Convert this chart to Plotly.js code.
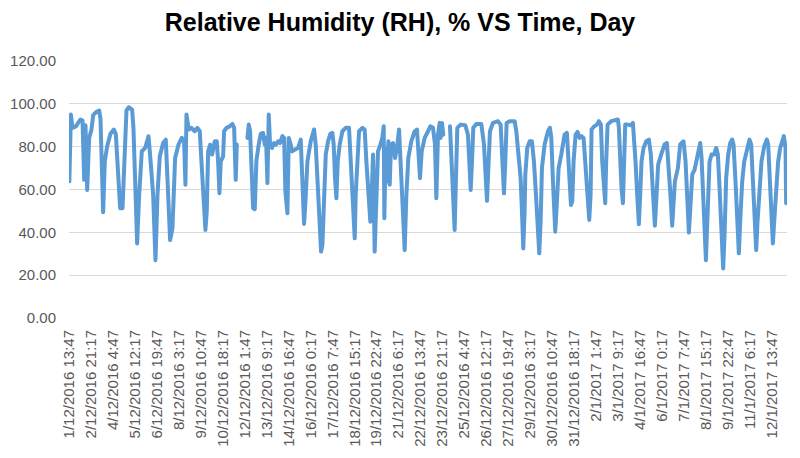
<!DOCTYPE html>
<html>
<head>
<meta charset="utf-8">
<script src="https://cdn.plot.ly/plotly-3.0.1.min.js"></script>
<style>
    body { margin: 0; background: #fff; }
    #graphic_rh { width: 800px; height: 458px; }
    #graphic_rh .js-line { stroke-linejoin: round; stroke-linecap: round; }
</style>
</head>
<body>
<div id="graphic_rh"></div>
<script>
// hours elapsed since 1/12/2016 13:47 (null marks a gap in the logger record)
const rh_hours = [
    0, 2.2, 4.5, 9.3, 16, 18.9, 21.3, 23.2, 25.6, 28.4, 31.8, 34.2, 39, 42.8, 44.7, 46.6, 48.5, 50.9, 54.3, 59,
    63.8, 66.7, 70, 72.9, 76.3, 79.6, 82, 85.3, 90.1, 92, 94.4, 97.3, 100.2, 104, 108.8, 113.6, 115.5, 120.3, 123.6, 126.5,
    129.8, 134.6, 138.4, 141.8, 144.6, 148, 151.8, 156.6, 161.4, 164.7, 166.6, 168.1, 171.4, 175.2, 180, 183.8, 187.2, 189.6, 192.5, 195.3,
    197.2, 199.2, 202, 204.9, 208.7, 211.6, 213.5, 215.4, 217.3, 220.7, 222.1, 225.5, 230.2, 234, 236.5, 237.4, 238.8, 240.3, 241, 255.6,
    257.5, 259.4, 261.3, 263.7, 266.1, 268.5, 271.8, 274.7, 278, 280.4, 282.3, 284.3, 286.2, 288.1, 291, 293.8, 296.7, 299.6, 302.4, 305.8,
    308.2, 310.1, 313, 314.9, 317.7, 319.7, 323.5, 328.3, 332.1, 334, 336.9, 338.8, 341.7, 346.4, 351.2, 353.6, 356.5, 359.3, 361.3, 363.2,
    365.1, 368, 371.3, 374.6, 377.5, 379.4, 381.3, 383.3, 385.2, 388, 391.9, 396.6, 401.4, 404.3, 407.2, 409.6, 411, 413.4, 415.8, 420.6,
    423.9, 426.3, 429.2, 432, 433.9, 435.9, 438.2, 440.6, 443, 446.4, 449.2, 451.2, 452.1, 454, 455.9, 457.9, 459.8, 461.7, 464.5, 467.4,
    470.3, 473.2, 475.1, 478, 481.3, 483.7, 486.5, 490.8, 495.6, 499, 500.9, 503.3, 505.7, 510, 514.8, 518.1, 521.9, 524.8, 526.7, 529.1,
    531.5, 532.9, 534.8, 536.7, 540, 546.3, 549.2, 553, 554.9, 556.8, 561.6, 568.3, 572.1, 574, 576, 577.9, 579.8, 584.1, 591.3, 595.1,
    597.5, 599.4, 601.8, 603.7, 608, 615.2, 619, 621.4, 623.8, 625.7, 627.6, 631.9, 639.1, 641.5, 644.8, 647.7, 649.6, 651.5, 653.4, 654.4,
    657.2, 660.6, 663.9, 666.8, 669.7, 672.5, 674.4, 676.4, 678.3, 682.1, 686.9, 689.7, 691.7, 694.1, 697.4, 700.3, 702.2, 706, 710.8, 714.1,
    716, 718, 719.9, 721.8, 723.7, 726.6, 729.4, 732.3, 735.2, 738, 740, 742.8, 746.2, 748.1, 749.5, 753.3, 757.2, 760, 762.9, 764.8,
    767.2, 769.1, 770.5, 772.5, 777.7, 784, 787.3, 788.7, 790.6, 792.5, 794.5, 796.4, 797.8, 801.6, 806.4, 808.8, 810.7, 812.6, 815, 817.4,
    819.3, 821.2, 824.1, 827.9, 831.8, 834.6, 837.5, 840.4, 842.3, 845.1, 849.4, 854.2, 857.6, 859.5, 862.4, 865.2, 867.2, 869.1, 873.4, 876.7,
    881.5, 884.4, 889.2, 892, 894, 897.3, 900.7, 903.5, 905.4, 907.4, 909.3, 911.7, 913.6, 916, 918.8, 921.7, 925.5, 928.4, 930.8, 933.2,
    935.1, 937, 938.4, 940.4, 942.7, 945.6, 948.5, 951.3, 953.3, 956.1, 959, 960.9, 962.8, 965.7, 968.6, 972.4, 976.2, 978.6, 981, 983.9,
    985.8, 987.7, 990.6, 993.4, 997.3, 1001.1, 1003, 1004.9, 1007.3, 1009.7, 1011.6, 1014.5, 1017.3, 1020.2, 1023.1, 1025.5, 1027.9, 1028.8
];
const rh_values = [
    63.8, 95, 88.8, 89.5, 92.7, 92.2, 64.5, 90, 59.8, 84, 88, 94.7, 96.3, 96.9, 93.1, 71.6, 49.4, 73.1, 80.2, 86,
    88, 86, 65.3, 51.3, 51.3, 76.3, 96.9, 98.4, 97.3, 88.8, 57.5, 34.8, 57.5, 77.8, 79.4, 84.9, 77.8, 57.5, 27, 57.5,
    75.5, 81.7, 83.3, 60.6, 36.4, 41.9, 74.7, 80.9, 84.1, 82.5, 62.2, 95, 88, 88.8, 87.2, 88.8, 87.2, 73.1, 59, 41.1,
    49.7, 77.8, 80.9, 76.3, 82.5, 82.5, 73.1, 58.3, 73.1, 75.5, 87.2, 88.8, 89.5, 90.6, 88.8, 79.4, 64.5, 81, null, 84.1,
    90.3, 87.2, 65.3, 51.3, 50.8, 73.5, 81, 86, 86.4, 81, 84.1, 63, 95, 81, 79.4, 81.7, 81, 82.5, 81.7, 84.9,
    84.1, 59, 48.9, 84.1, 81, 77.8, 78.6, 79.4, 83.3, 65.3, 43.9, 54, 73.1, 82.5, 88, 81, 62.2, 52.8, 31, 34.1,
    57.5, 76.3, 82.5, 86, 86.4, 81, 65.3, 55.9, 73.1, 81, 87.2, 88.8, 88.8, 73.1, 57.5, 37.2, 57.5, 73.1, 87.2, 88.8,
    88, 73.1, 57.5, 45, 57.5, 76.3, 31, 60.6, 77.8, 81, 84.1, 89.5, 46.6, 79.4, 63.8, 82.5, 62.2, 81, 81.7, 74.7,
    79.4, 88, 76.3, 57.5, 31.7, 57.5, 74.7, 82.5, 87.2, 88, 73.1, 65.3, 77.8, 84.1, 87.2, 89.5, 88.8, 81, 55.9, 85.6,
    91.1, 84.1, 91.1, 85.6, null, 89.5, 68.5, 41.1, 65.3, 88.8, 90.3, 90, 85.6, 73.1, 59.8, 73.1, 88.8, 90.6, 90.6, 81,
    65.3, 54.7, 73.1, 87.2, 91.1, 91.9, 90.3, 73.1, 58.2, 73.1, 91.1, 91.9, 91.9, 87.2, 73.1, 65.3, 49.7, 32.5, 49.7, 66.9,
    79.4, 82.5, 82.5, 73.1, 57.5, 35.6, 30.2, 45, 70, 81, 87.2, 88.8, 84.1, 63.8, 40.3, 57.5, 70, 76.3, 85.6, 86.4,
    76.3, 60.6, 52.8, 54.4, 73.1, 85.6, 86.9, 84.1, 84.9, 84.1, 73.1, 57.5, 45.8, 57.5, 88, 89.5, 90.3, 91.9, 90.3, 73.1,
    60.6, 53.6, 73.1, 90.3, 91.9, 92.2, 92.7, 88.8, 73.1, 60.6, 53.6, 73.1, 90.3, 90.3, 90, 91.1, 84.1, 73.1, 57.5, 43.8,
    57.5, 73.1, 79.4, 82.5, 83.3, 76.3, 59.1, 43.1, 54.4, 71.6, 76.3, 81, 81.7, 74.7, 59.1, 43.1, 51.3, 63.8, 70, 81,
    82.5, 73.1, 39.9, 57.5, 66.9, 69.2, 74.7, 80.2, 81.7, 74.7, 63.8, 41.9, 27, 45, 72.8, 76.3, 76.3, 79.4, 76.3, 60.6,
    49.7, 34.1, 23.1, 38.8, 65.3, 76.3, 81.7, 83.3, 81, 63.8, 41.9, 30.2, 45, 63.8, 73.1, 79.4, 83.3, 81, 66.9, 49.7,
    31.7, 45, 63.8, 73.1, 80.2, 83.3, 81, 68.8, 49.7, 34.8, 45, 63.8, 73.1, 79.4, 83.3, 84.9, 79.4, 53.6
];
// category labels shown on the time axis, one every 31.5 h
const tick_labels = [
    "1/12/2016 13:47", "2/12/2016 21:17", "4/12/2016 4:47", "5/12/2016 12:17", "6/12/2016 19:47",
    "8/12/2016 3:17", "9/12/2016 10:47", "10/12/2016 18:17", "12/12/2016 1:47", "13/12/2016 9:17",
    "14/12/2016 16:47", "16/12/2016 0:17", "17/12/2016 7:47", "18/12/2016 15:17", "19/12/2016 22:47",
    "21/12/2016 6:17", "22/12/2016 13:47", "23/12/2016 21:17", "25/12/2016 4:47", "26/12/2016 12:17",
    "27/12/2016 19:47", "29/12/2016 3:17", "30/12/2016 10:47", "31/12/2016 18:17", "2/1/2017 1:47",
    "3/1/2017 9:17", "4/1/2017 16:47", "6/1/2017 0:17", "7/1/2017 7:47", "8/1/2017 15:17",
    "9/1/2017 22:47", "11/1/2017 6:17", "12/1/2017 13:47"
];
const tick_step_hours = 31.5;

const Grafico = {
    fun: {
        printGraphic: (html_id, tittle) => {
            let data = [{
                x: rh_hours,
                y: rh_values,
                mode: 'lines',
                type: 'scatter',
                connectgaps: false,
                line: { color: '#5b9bd5', width: 4 },
                hoverinfo: 'skip'
            }];
            let tick_font = { family: 'Liberation Sans, Arial, sans-serif', size: 15, color: '#595959' };
            let layout = {
                width: 800,
                height: 458,
                margin: { l: 69, r: 13, t: 61, b: 140 },
                paper_bgcolor: '#ffffff',
                plot_bgcolor: '#ffffff',
                showlegend: false,
                title: {
                    text: tittle,
                    x: 0.5,
                    xanchor: 'center',
                    y: 0.952,
                    yanchor: 'middle',
                    font: { family: 'Liberation Sans, Arial, sans-serif', size: 25, color: '#000000', weight: 700 }
                },
                xaxis: {
                    range: [-0.5, 1030],
                    tickvals: tick_labels.map((t, i) => i * tick_step_hours),
                    ticktext: tick_labels,
                    tickangle: -90,
                    tickfont: tick_font,
                    ticklabelstandoff: 8,
                    showgrid: false,
                    zeroline: false,
                    showline: false,
                    ticks: ''
                },
                yaxis: {
                    range: [0, 120],
                    dtick: 20,
                    tickformat: '.2f',
                    tickfont: tick_font,
                    ticklabelstandoff: 12,
                    gridcolor: '#d9d9d9',
                    gridwidth: 1,
                    zeroline: false,
                    showline: false,
                    ticks: ''
                }
            };
            Plotly.newPlot(html_id, data, layout, { staticPlot: true });
        }
    }
};

Grafico.fun.printGraphic("graphic_rh", "Relative Humidity (RH), % VS Time, Day");
</script>
</body>
</html>
